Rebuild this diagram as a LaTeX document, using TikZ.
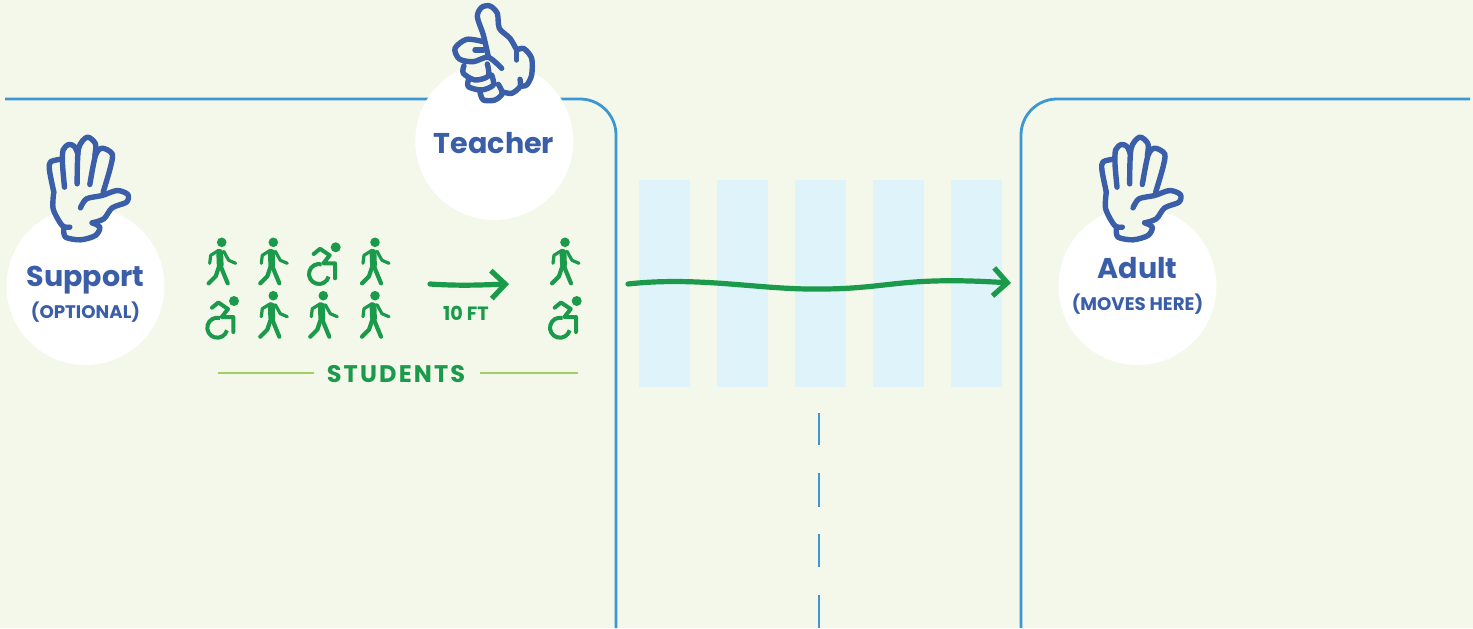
\documentclass[tikz,border=0pt]{standalone}
\usepackage{fontspec}
\setmainfont{Poppins}
\usetikzlibrary{arrows.meta}
\definecolor{fondoClaro}{HTML}{F4F8EA}
\definecolor{azulCalle}{HTML}{3D97D3}
\definecolor{azulCruce}{HTML}{DFF3FA}
\definecolor{verdeFila}{HTML}{1A9A4A}
\definecolor{verdeLinea}{HTML}{A3CF62}
\definecolor{azulTexto}{HTML}{3A5EA8}
\tikzset{
  roadline/.style={draw=azulCalle,line width=1.4pt},
  crossbar/.style={fill=azulCruce},
  staffspot/.style={circle,fill=white,minimum size=79pt,inner sep=0pt},
  rolename/.style={text=azulTexto,font=\bfseries\fontsize{14.3}{18}\selectfont,inner sep=0pt,anchor=base},
  rolenote/.style={text=azulTexto,font=\bfseries\fontsize{9.1}{10}\selectfont,inner sep=0pt,anchor=base},
  handline/.style={draw=azulTexto,line width=2.7pt,line cap=round,line join=round},
  walkpath/.style={draw=verdeFila,line width=2.6pt,line cap=round,line join=round,-{Straight Barb[length=7pt,width=14pt,line width=2.6pt]}},
  walker/.pic={
    \fill[verdeFila] (0,0) circle (4.8);
    \draw[verdeFila,line width=1.6pt,line cap=round,line join=round] (-3,8) -- (-11,13) -- (-12,21);
    \draw[verdeFila,line width=1.6pt,line cap=round,line join=round] (2,9) -- (7,18) -- (14,21);
    \draw[verdeFila,line width=3.4pt,line cap=round] (-2,10) -- (-1.5,23);
    \draw[verdeFila,line width=2.1pt,line cap=round,line join=round] (-3,25) -- (-6,34) -- (-13,41);
    \draw[verdeFila,line width=2.1pt,line cap=round,line join=round] (-1,24) -- (6,41);
  },
  wheeler/.pic={
    \fill[verdeFila] (0,0) circle (5);
    \draw[verdeFila,line width=2pt,line cap=round,line join=round] (-22,6.7) -- (-15.7,1.5) -- (-6,8) -- (-12.3,16) -- (-0.7,16) -- (-0.7,31);
    \draw[verdeFila,line width=2pt] (-16.7,26.7) ++(285:10) arc (285:15:10);
  },
  openhand/.pic={
    \path[fill=fondoClaro] plot[smooth] coordinates {(160,215) (148,150) (152,122) (187,118) (205,72) (260,50) (300,85) (335,110) (308,215) (345,210) (380,215) (380,245) (330,265) (298,320) (285,345) (240,358) (195,350) (185,318) (158,265) (160,215)};
    \draw[handline] plot[smooth] coordinates {(160,215) (147,150) (150,124) (183,116)};
    \draw[handline] plot[smooth] coordinates {(192,200) (186,130) (188,88) (205,72) (222,78) (232,100)};
    \draw[handline] plot[smooth] coordinates {(230,190) (234,85) (260,50) (285,70) (283,105)};
    \draw[handline] plot[smooth] coordinates {(268,192) (285,105) (305,83) (335,100) (330,140) (308,215)};
    \draw[handline] plot[smooth] coordinates {(240,262) (258,235) (305,225) (350,210) (382,222) (378,245) (335,262) (310,295) (275,307)};
    \draw[handline] plot[smooth] coordinates {(160,215) (158,265) (185,315) (208,320)};
    \draw[handline] plot[smooth] coordinates {(190,325) (195,350) (240,358) (285,345) (298,320) (275,307)};
  },
  thumbhand/.pic={
    \path[fill=fondoClaro] plot[smooth] coordinates {(190,105) (172,50) (185,22) (210,18) (232,40) (238,85) (270,115) (290,150) (310,145) (335,175) (335,225) (320,255) (300,260) (275,280) (245,280) (225,300) (190,300) (145,260) (130,220) (115,175) (105,145) (140,118) (190,105)};
    \draw[handline] plot[smooth] coordinates {(205,170) (190,105) (172,50) (185,22) (210,18) (232,40) (238,85) (270,115) (290,150)};
    \draw[handline] (290,180) -- (290,150);
    \draw[handline] plot[smooth] coordinates {(290,150) (312,146) (335,175) (335,225) (320,255) (302,258)};
    \draw[handline] plot[smooth] coordinates {(300,238) (300,260) (275,280) (245,275)};
    \draw[handline] plot[smooth] coordinates {(190,125) (140,118) (105,145) (118,177) (160,185) (205,172) (245,205)};
    \draw[handline] (165,150) -- (190,150);
    \draw[handline] plot[smooth] coordinates {(132,197) (130,220) (165,240) (205,228) (202,192)};
    \draw[handline] plot[smooth] coordinates {(146,238) (145,260) (185,270) (220,255) (215,225)};
    \draw[handline] plot[smooth] coordinates {(180,276) (190,300) (225,300) (247,280) (235,253)};
  },
}

\begin{document}
\begin{tikzpicture}[x=0.5pt,y=-0.5pt]
    \fill[fondoClaro] (0,0) rectangle (1473,628);
    \useasboundingbox (0,0) rectangle (1473,628);
    % street
    \draw[roadline] (5,99) -- (580,99) arc (270:360:36) -- (616,628);
    \draw[roadline] (1470,99) -- (1057,99) arc (270:180:36) -- (1021,628);
    \fill[crossbar] (639,180) rectangle (690,387);
    \fill[crossbar] (717,180) rectangle (768,387);
    \fill[crossbar] (795,180) rectangle (846,387);
    \fill[crossbar] (873,180) rectangle (924,387);
    \fill[crossbar] (951,180) rectangle (1002,387);
    \draw[roadline] (819,413) -- (819,445);
    \draw[roadline] (819,473) -- (819,507);
    \draw[roadline] (819,534) -- (819,567);
    \draw[roadline] (819,595) -- (819,628);
    % staff
    \node[staffspot] (teacherSpot) at (494.3,141) {};
    \node[staffspot] (supportSpot) at (85.5,286) {};
    \node[staffspot] (adultSpot) at (1137.5,286) {};
    \pic at (420,0) [scale=0.3333] {thumbhand};
    \pic at (0.5,120.5) [scale=0.3333] {openhand};
    \pic at (1053,120.5) [scale=0.3333] {openhand};
    \node[rolename] (teacherName) at (494,153) {Teacher};
    \node[rolename] (supportName) at (85.5,286) {Support};
    \node[rolenote] (supportNote) at (85.5,318) {(OPTIONAL)};
    \node[rolename] (adultName) at (1137.5,278) {Adult};
    \node[rolenote] (adultNote) at (1137.5,310) {(MOVES HERE)};
    % students
    \pic at (221.7,242.3) {walker};
    \pic at (273.3,242.3) {walker};
    \pic at (335.7,247.3) {wheeler};
    \pic at (375,242.3) {walker};
    \pic at (234,301) {wheeler};
    \pic at (273.3,295.7) {walker};
    \pic at (323.3,295.7) {walker};
    \pic at (375,295.7) {walker};
    \pic at (565,242.3) {walker};
    \pic at (576.7,301) {wheeler};
    \node[text=verdeFila,font=\bfseries\fontsize{12}{15}\selectfont\addfontfeature{LetterSpace=9},inner sep=0pt,anchor=base] (studentsLabel) at (396,382) {STUDENTS};
    \coordinate (lineLeftEnd) at (218,373);
    \coordinate (lineRightEnd) at (578,373);
    \draw[verdeLinea,line width=1.1pt] (lineLeftEnd) -- (314,373);
    \draw[verdeLinea,line width=1.1pt] (480,373) -- (lineRightEnd);
    \node[text=verdeFila,font=\bfseries\fontsize{9.6}{11}\selectfont,inner sep=0pt,anchor=base] (tenFeet) at (466,320) {10 FT};
    % walking paths
    \coordinate (shortStart) at (430,284);
    \coordinate (shortEnd) at (509,284);
    \coordinate (crossStart) at (628,284);
    \coordinate (crossEnd) at (1011,283);
    \draw[walkpath] (shortStart) .. controls (460,286) and (480,285) .. (shortEnd);
    \draw[walkpath] (crossStart) .. controls (700,276) and (760,290) .. (820,289) .. controls (890,289) and (900,276) .. (crossEnd);
  \end{tikzpicture}
\end{document}
